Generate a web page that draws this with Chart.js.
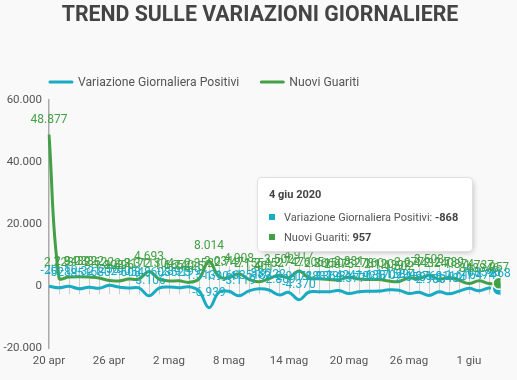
<!DOCTYPE html>
<html lang="it">
<head>
<meta charset="utf-8">
<script src="https://cdn.jsdelivr.net/npm/chart.js@4/dist/chart.umd.min.js"></script>
<style>
  html, body { margin: 0; padding: 0; background: #f9f9f9; }
  #wrap { position: relative; width: 517px; height: 380px; }
  #tt { position: absolute; display: none; background: #fff; border: 1px solid #e0e0e0; border-radius: 4px;
        box-shadow: 2px 2px 6px -3px #999; font-family: Roboto, sans-serif; font-size: 11px; color: #555;
        box-sizing: border-box; width: 216px; height: 75px; }
  #tt .t { position: absolute; left: 11px; top: 10px; line-height: 14px; font-weight: bold; color: #444; white-space: nowrap; }
  #tt .r { position: absolute; left: 11px; line-height: 14px; white-space: nowrap; }
  #tt .m { display: inline-block; width: 6px; height: 6px; margin-right: 9px; vertical-align: 1px; }
  #tt b { color: #444; }
</style>
</head>
<body>
<div id="wrap">
  <canvas id="c" width="517" height="380"></canvas>
  <div id="tt"></div>
</div>
<script>
// ---- data ----
const dates = [
  '2020-04-20','2020-04-21','2020-04-22','2020-04-23','2020-04-24','2020-04-25','2020-04-26','2020-04-27',
  '2020-04-28','2020-04-29','2020-04-30','2020-05-01','2020-05-02','2020-05-03','2020-05-04','2020-05-05',
  '2020-05-06','2020-05-07','2020-05-08','2020-05-09','2020-05-10','2020-05-11','2020-05-12','2020-05-13',
  '2020-05-14','2020-05-15','2020-05-16','2020-05-17','2020-05-18','2020-05-19','2020-05-20','2020-05-21',
  '2020-05-22','2020-05-23','2020-05-24','2020-05-25','2020-05-26','2020-05-27','2020-05-28','2020-05-29',
  '2020-05-30','2020-05-31','2020-06-01','2020-06-02','2020-06-03','2020-06-04'
];
const variazionePositivi = [
  -20, -528, -10, -851, -321, -680, 256, -290, -608, -548, -3106, -608, -239, -525, -199, -1513,
  -6939, -1904, -1663, -3119, -1518, -836, -1222, -2809, -2017, -4370, -1883, -1836, -1798, -1424, -2377, -1792,
  -1638, -1570, -1158, -1294, -2358, -1976, -2980, -1811, -2484, -1616, -708, -1474, -596, -868
];
const nuoviGuariti = [
  48877, 2723, 2943, 3033, 2922, 2622, 1808, 1696, 2317, 2311, 4693, 2304, 1665, 1740, 1225, 2352,
  8014, 3031, 2747, 4008, 2155, 1401, 2452, 3502, 2747, 4917, 2605, 2366, 2150, 2075, 2881, 2278,
  2160, 2120, 1639, 1502, 2677, 2443, 3503, 2240, 2789, 1874, 848, 1737, 846, 957
];
const seriesNames = ['Variazione Giornaliera Positivi', 'Nuovi Guariti'];
const yTicks = { min: -20000, max: 60000, step: 20000 };
const mesi = ['gen','feb','mar','apr','mag','giu','lug','ago','set','ott','nov','dic'];
const titleText = 'TREND SULLE VARIAZIONI GIORNALIERE';

const CYAN = '#17abc4';
const GREEN = '#43a047';

function fmt(v) {
  const s = Math.abs(Math.round(v)).toString().replace(/\B(?=(\d{3})+(?!\d))/g, '.');
  return (v < 0 ? '-' : '') + s;
}
function dayLabel(iso) { const p = iso.split('-').map(Number); return p[2] + ' ' + mesi[p[1] - 1]; }
function fullLabel(iso) { const p = iso.split('-').map(Number); return p[2] + ' ' + mesi[p[1] - 1] + ' ' + p[0]; }

// vertical tick band around zero
const bandPlugin = {
  id: 'band',
  beforeDatasetsDraw(chart) {
    const { ctx } = chart, xs = chart.scales.x, ys = chart.scales.y;
    const y0 = ys.getPixelForValue(0);
    ctx.save();
    ctx.strokeStyle = '#cccccc';
    ctx.lineWidth = 1;
    chart.data.labels.forEach((_, i) => {
      const x = Math.round(xs.getPixelForValue(i)) + 0.5;
      ctx.beginPath(); ctx.moveTo(x, y0 - 20); ctx.lineTo(x, y0 + 8); ctx.stroke();
    });
    ctx.restore();
  }
};

// value labels on each point
const valueLabels = {
  id: 'valueLabels',
  afterDatasetsDraw(chart) {
    const { ctx } = chart;
    ctx.save();
    ctx.font = '12px Roboto';
    ctx.textAlign = 'center';
    ctx.textBaseline = 'middle';
    chart.data.datasets.forEach((ds, di) => {
      const meta = chart.getDatasetMeta(di);
      ctx.fillStyle = ds.borderColor;
      meta.data.forEach((el, i) => {
        ctx.fillText(fmt(ds.data[i]), el.x, el.y - 15);
      });
    });
    ctx.restore();
  }
};

// legend drawn from dataset labels/colours, aligned to chart area left
const lineLegend = {
  id: 'lineLegend',
  afterDraw(chart) {
    const { ctx, chartArea } = chart;
    ctx.save();
    ctx.font = '12.2px Roboto';
    ctx.textBaseline = 'middle';
    let x = chartArea.left;
    const y = chartArea.top - 18;
    chart.data.datasets.forEach(ds => {
      ctx.strokeStyle = ds.borderColor;
      ctx.lineWidth = 3;
      ctx.lineCap = 'round';
      ctx.beginPath(); ctx.moveTo(x + 1, y); ctx.lineTo(x + 23, y); ctx.stroke();
      ctx.fillStyle = '#555';
      ctx.fillText(ds.label, x + 29, y + 0.5);
      x += 29 + ctx.measureText(ds.label).width + 21;
    });
    ctx.restore();
  }
};

function externalTooltip(context) {
  const { chart, tooltip } = context;
  const el = document.getElementById('tt');
  if (tooltip.opacity === 0 || !tooltip.dataPoints || !tooltip.dataPoints.length) { el.style.display = 'none'; return; }
  const idx = tooltip.dataPoints[0].dataIndex;
  const pts = tooltip.dataPoints.slice().sort((a, b) => a.datasetIndex - b.datasetIndex);
  let html = '<div class="t">' + fullLabel(dates[idx]) + '</div>';
  pts.forEach((dp, k) => {
    html += '<div class="r" style="top:' + (33 + k * 20) + 'px"><span class="m" style="background:' +
      dp.dataset.borderColor + '"></span>' + dp.dataset.label + ': <b>' + fmt(dp.raw) + '</b></div>';
  });
  el.innerHTML = html;
  el.style.display = 'block';
  el.style.left = (tooltip.caretX - 242) + 'px';
  el.style.top = (chart.chartArea.top + 77) + 'px';
}

const chart = new Chart(document.getElementById('c'), {
  type: 'line',
  data: {
    labels: dates,
    datasets: [
      { label: seriesNames[0], data: variazionePositivi, borderColor: CYAN, backgroundColor: CYAN, order: 2,
        borderWidth: 3, tension: 0.4, pointRadius: 0, pointHoverRadius: 7,
        pointHoverBackgroundColor: CYAN, pointHoverBorderColor: '#fff', pointHoverBorderWidth: 2 },
      { label: seriesNames[1], data: nuoviGuariti, borderColor: GREEN, backgroundColor: GREEN, order: 1,
        borderWidth: 3, tension: 0.4, pointRadius: 0, pointHoverRadius: 6,
        pointHoverBackgroundColor: GREEN, pointHoverBorderColor: '#fff', pointHoverBorderWidth: 1.5 }
    ]
  },
  options: {
    responsive: false,
    animation: false,
    events: [],
    layout: { padding: { left: 3, right: 0, top: 0, bottom: 6 } },
    interaction: { mode: 'index', intersect: false },
    plugins: {
      title: { display: true, text: titleText, color: '#444',
        font: { family: 'Roboto', size: 21.3, weight: 'bold' }, padding: { top: 2.5, bottom: 72 } },
      legend: { display: false },
      tooltip: { enabled: false, mode: 'index', intersect: false, external: externalTooltip }
    },
    scales: {
      x: {
        grid: { display: false, drawTicks: false },
        border: { display: false },
        ticks: { autoSkip: false, maxRotation: 0, padding: 6, color: '#555',
          font: { family: 'Roboto', size: 11.5 },
          callback: (v, i) => (i % 6 === 0 ? dayLabel(dates[i]) : null) }
      },
      y: {
        min: yTicks.min, max: yTicks.max,
        grid: { display: false, drawTicks: false },
        border: { display: true, color: '#aaa', width: 1.5 },
        ticks: { stepSize: yTicks.step, padding: 7, color: '#555',
          font: { family: 'Roboto', size: 11.5 }, callback: v => fmt(v) },
        afterFit: s => { s.width = 46; }
      },
      yRight: {
        position: 'right',
        grid: { display: false, drawTicks: false },
        border: { display: false },
        ticks: { display: false },
        afterFit: s => { s.width = 18; }
      }
    }
  },
  plugins: [bandPlugin, valueLabels, lineLegend]
});

const last = dates.length - 1;
const active = chart.data.datasets.map((d, i) => ({ datasetIndex: i, index: last }));
chart.setActiveElements(active);
chart.tooltip.setActiveElements(active, { x: chart.chartArea.right, y: chart.chartArea.top });
chart.update();
</script>
</body>
</html>
